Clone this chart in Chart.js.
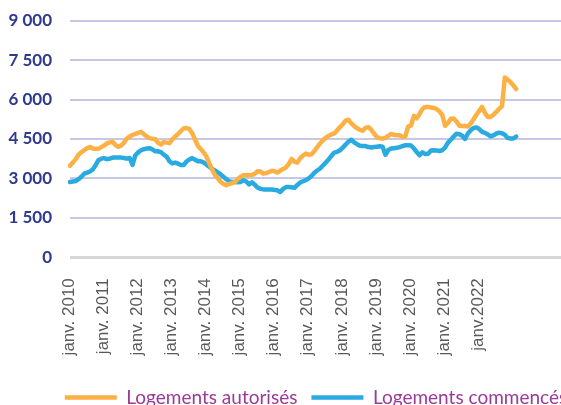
<!DOCTYPE html>
<html lang="fr">
<head>
<meta charset="utf-8">
<title>Logements autorisés et commencés</title>
<script src="https://cdn.jsdelivr.net/npm/chart.js@4.4.1/dist/chart.umd.min.js"></script>
<style>
  html, body { margin: 0; padding: 0; background: #fff; overflow: hidden; }
  #wrap { width: 561px; height: 405px; overflow: hidden; }
</style>
</head>
<body>
<div id="wrap">
  <canvas id="chart" width="632" height="417"></canvas>
</div>
<script>
// Monthly series, janv. 2010 onwards
const autorises = [
  3480, 3600, 3730, 3900, 4000, 4070, 4150, 4190, 4140, 4130, 4130, 4190,
  4250, 4330, 4370, 4390, 4270, 4200, 4250, 4360, 4515, 4590, 4650, 4690,
  4730, 4770, 4680, 4590, 4530, 4505, 4490, 4350, 4290, 4380, 4360, 4340,
  4480, 4590, 4690, 4800, 4900, 4915, 4880, 4720, 4480, 4240, 4120, 3990,
  3830, 3580, 3330, 3130, 3000, 2870, 2790, 2740, 2785, 2820, 2855, 2970,
  3065, 3120, 3130, 3115, 3130, 3170, 3270, 3260, 3180, 3200, 3240, 3290,
  3270, 3220, 3300, 3360, 3415, 3550, 3740, 3640, 3600, 3770, 3870, 3945,
  3900, 3920, 4040, 4190, 4330, 4450, 4550, 4620, 4670, 4710, 4830, 4950,
  5060, 5200, 5230, 5090, 4990, 4910, 4850, 4810, 4930, 4950, 4850, 4700,
  4570, 4530, 4520, 4540, 4620, 4690, 4660, 4640, 4640, 4580, 4600, 4980,
  5010, 5380, 5290, 5450, 5640, 5720, 5720, 5700, 5680, 5640, 5550, 5410,
  5000, 5110, 5270, 5280, 5160, 5000, 4995, 4990, 4970, 5090, 5250, 5420,
  5570, 5720, 5490, 5340, 5340, 5420, 5530, 5650, 5740, 6840, 6760, 6660,
  6540, 6400,
];

const commences = [
  2860, 2880, 2900, 2970, 3060, 3180, 3220, 3260, 3340, 3500, 3690, 3750,
  3770, 3730, 3750, 3790, 3790, 3790, 3790, 3775, 3750, 3775, 3510, 3880,
  3990, 4070, 4110, 4135, 4150, 4100, 4030, 4030, 4000, 3900, 3830, 3650,
  3570, 3600, 3560, 3510, 3510, 3640, 3720, 3770, 3710, 3650, 3650, 3610,
  3530, 3440, 3360, 3300, 3230, 3150, 3060, 2970, 2890, 2860, 2860, 2850,
  2860, 2930, 2880, 2770, 2850, 2760, 2650, 2600, 2580, 2580, 2580, 2575,
  2560, 2545, 2480, 2600, 2670, 2670, 2660, 2640, 2750, 2840, 2890, 2930,
  3000, 3090, 3210, 3300, 3375, 3490, 3600, 3720, 3860, 3980, 4010, 4070,
  4170, 4290, 4400, 4470, 4370, 4300, 4240, 4235, 4230, 4190, 4175, 4190,
  4205, 4220, 4200, 3900, 4080, 4135, 4150, 4165, 4190, 4230, 4260, 4260,
  4250, 4140, 4000, 3880, 3990, 3930, 3940, 4060, 4070, 4065, 4040, 4070,
  4180, 4360, 4470, 4590, 4700, 4680, 4620, 4500, 4710, 4830, 4920, 4940,
  4880, 4770, 4730, 4670, 4600, 4640, 4700, 4740, 4720, 4660, 4540, 4515,
  4520, 4590,
];

// Tick labels shown on the x axis, one per January
const xTickLabels = [
  "janv. 2010", "janv. 2011", "janv. 2012", "janv. 2013", "janv. 2014",
  "janv. 2015", "janv. 2016", "janv. 2017", "janv. 2018", "janv. 2019",
  "janv. 2020", "janv. 2021", "janv.2022",
];

const months = ["janv.", "févr.", "mars", "avr.", "mai", "juin", "juil.", "août", "sept.", "oct.", "nov.", "déc."];
const firstYear = 2010;
const categoryCount = 187; // the axis runs past the right edge of the picture

const yTicks = [0, 1500, 3000, 4500, 6000, 7500, 9000];

const seriesNames = ["Logements autorisés", "Logements commencés"];
const seriesColors = ["#fdb144", "#29abe2"];

const categories = [];
for (let i = 0; i < categoryCount; i++) {
  categories.push(months[i % 12] + " " + (firstYear + Math.floor(i / 12)));
}

const formatThousands = (v) => String(v).replace(/\B(?=(\d{3})+(?!\d))/g, " ");

new Chart(document.getElementById("chart").getContext("2d"), {
  type: "line",
  data: {
    labels: categories,
    datasets: [
      {
        label: seriesNames[0],
        data: autorises,
        borderColor: seriesColors[0],
        backgroundColor: seriesColors[0],
        borderWidth: 4.5,
        borderCapStyle: "round",
        borderJoinStyle: "round",
        pointRadius: 0,
        tension: 0,
      },
      {
        label: seriesNames[1],
        data: commences,
        borderColor: seriesColors[1],
        backgroundColor: seriesColors[1],
        borderWidth: 4.5,
        borderCapStyle: "round",
        borderJoinStyle: "round",
        pointRadius: 0,
        tension: 0,
      },
    ],
  },
  options: {
    responsive: false,
    animation: false,
    layout: { padding: { top: 20.7, left: 0, right: 0, bottom: 0 } },
    plugins: {
      tooltip: { enabled: false },
      legend: {
        position: "bottom",
        labels: {
          usePointStyle: true,
          pointStyle: "line",
          pointStyleWidth: 52,
          padding: 14,
          color: "#9b3a9a",
          font: { family: "Lato", size: 19 },
        },
      },
    },
    scales: {
      x: {
        grid: { display: false },
        border: { display: false },
        ticks: {
          autoSkip: false,
          minRotation: 90,
          maxRotation: 90,
          padding: 13,
          labelOffset: -1,
          color: "#595959",
          font: { family: "Liberation Sans", size: 17 },
          callback: (value, index) =>
            index % 12 === 0 ? xTickLabels[index / 12] || "" : "",
        },
        afterFit: (scale) => {
          scale.height = 116.8;
          scale.paddingTop = 0;
          scale.paddingBottom = 0;
        },
      },
      y: {
        min: 0,
        max: 9000,
        border: { display: false },
        grid: {
          drawTicks: false,
          color: (ctx) => (ctx.tick && ctx.tick.value === 0 ? "#d6d6d6" : "#c6c8e4"),
          lineWidth: (ctx) => (ctx.tick && ctx.tick.value === 0 ? 3 : 2),
        },
        afterBuildTicks: (scale) => {
          scale.ticks = yTicks.map((v) => ({ value: v }));
        },
        ticks: {
          padding: 18,
          color: "#2e3a8f",
          font: { family: "Lato", size: 17, weight: "bold" },
          callback: (value) => formatThousands(value),
        },
        afterFit: (scale) => {
          scale.width = 70;
          scale.paddingTop = 0;
          scale.paddingBottom = 0;
        },
      },
    },
  },
});
</script>
</body>
</html>
